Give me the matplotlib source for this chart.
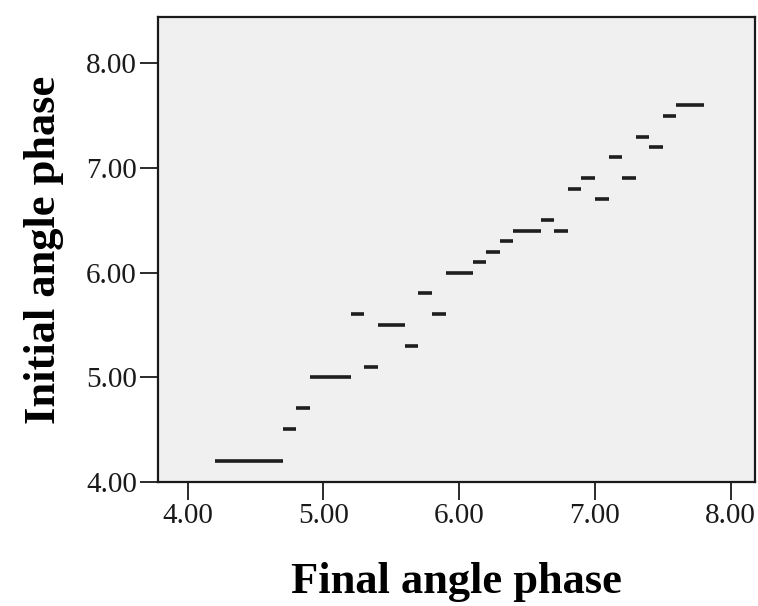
import matplotlib.pyplot as plt

# each dash: final angle phase interval [start, end] at an initial angle phase value
final_start = [4.2, 4.7, 4.8, 4.9, 5.2, 5.3, 5.4, 5.6, 5.7, 5.8, 5.9, 6.1, 6.2,
               6.3, 6.4, 6.6, 6.7, 6.8, 6.9, 7.0, 7.1, 7.2, 7.3, 7.4, 7.5, 7.6]
final_end = [4.7, 4.8, 4.9, 5.2, 5.3, 5.4, 5.6, 5.7, 5.8, 5.9, 6.1, 6.2, 6.3,
             6.4, 6.6, 6.7, 6.8, 6.9, 7.0, 7.1, 7.2, 7.3, 7.4, 7.5, 7.6, 7.8]
initial = [4.2, 4.5, 4.7, 5.0, 5.6, 5.1, 5.5, 5.3, 5.8, 5.6, 6.0, 6.1, 6.2,
           6.3, 6.4, 6.5, 6.4, 6.8, 6.9, 6.7, 7.1, 6.9, 7.3, 7.2, 7.5, 7.6]

ticks = [4, 5, 6, 7, 8]
tick_labels = ["4.00", "5.00", "6.00", "7.00", "8.00"]

plt.rcParams['font.family'] = ['Liberation Serif', 'DejaVu Serif']

fig = plt.figure(figsize=(7.58, 6.06), dpi=100)
ax = fig.add_axes([0.2082, 0.2051, 0.788, 0.7664])
ax.set_facecolor('#f0f0f0')

ax.hlines(initial, final_start, final_end, colors='#1e1e1e', linewidth=2.6)

ax.set_xlim(3.78, 8.18)
ax.set_ylim(4.0, 8.44)
ax.set_xticks(ticks)
ax.set_xticklabels(tick_labels)
ax.set_yticks(ticks)
ax.set_yticklabels(tick_labels)
ax.tick_params(direction='out', length=13, width=1.3, labelsize=21,
               colors='#1a1a1a', pad=2)
for s in ax.spines.values():
    s.set_linewidth(1.6)
    s.set_color('#1a1a1a')

ax.set_xlabel("Final angle phase", fontsize=32, fontweight='bold', labelpad=24)
ax.set_ylabel("Initial angle phase", fontsize=32, fontweight='bold', labelpad=16)

fig.savefig("out.png", dpi=100)
